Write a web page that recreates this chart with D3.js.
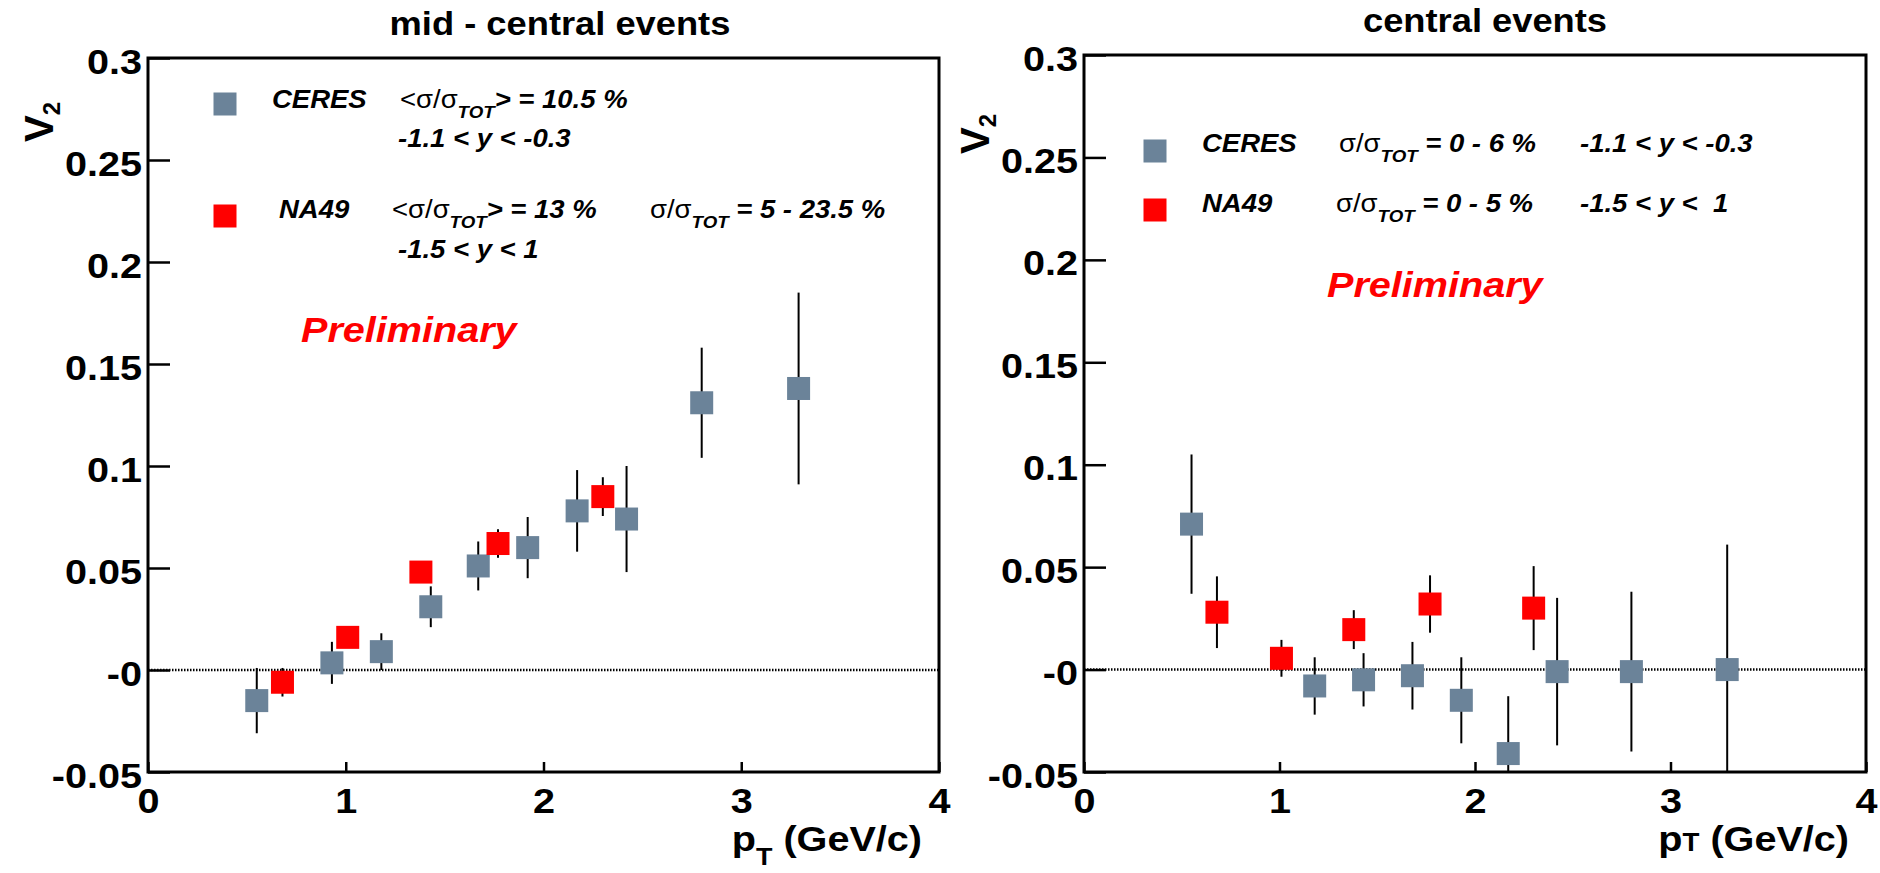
<!DOCTYPE html>
<html>
<head>
<meta charset="utf-8">
<script src="https://cdn.jsdelivr.net/npm/d3@7"></script>
<style>
    body { margin: 0; background: #fff; }
    svg { display: block; font-family: "Liberation Sans", Arial, Helvetica, sans-serif; }
    text { white-space: pre; }
</style>
</head>
<body>
<div id="chart"></div>
<script>
// ---- data ----
const xTicks = [0, 1, 2, 3, 4];
const yTicks = [-0.05, 0, 0.05, 0.1, 0.15, 0.2, 0.25, 0.3];
const yTickLabels = ["-0.05", "-0", "0.05", "0.1", "0.15", "0.2", "0.25", "0.3"];

// mid-central events
const ptMidCeres = [0.55, 0.93, 1.18, 1.43, 1.67, 1.92, 2.17, 2.42, 2.80, 3.29];
const v2MidCeres = [-0.015, 0.0035, 0.009, 0.031, 0.051, 0.060, 0.078, 0.074, 0.131, 0.138];
const errMidCeres = [0.016, 0.0103, 0.009, 0.010, 0.012, 0.015, 0.020, 0.026, 0.027, 0.047];
const ptMidNa49 = [0.68, 1.01, 1.38, 1.77, 2.30];
const v2MidNa49 = [-0.006, 0.016, 0.048, 0.062, 0.085];
const errMidNa49 = [0.007, 0.004, 0.004, 0.007, 0.0095];

// central events
const ptCenCeres = [0.55, 1.18, 1.43, 1.68, 1.93, 2.17, 2.42, 2.80, 3.29];
const v2CenCeres = [0.071, -0.008, -0.005, -0.003, -0.015, -0.041, -0.001, -0.001, 0.000];
const errCenCeres = [0.034, 0.014, 0.013, 0.0165, 0.021, 0.028, 0.036, 0.039, 0.061];
const ptCenNa49 = [0.68, 1.01, 1.38, 1.77, 2.30];
const v2CenNa49 = [0.028, 0.0055, 0.0195, 0.032, 0.030];
const errCenNa49 = [0.0175, 0.009, 0.0095, 0.014, 0.0205];

const ceresColor = "#6b8399";
const na49Color = "#ff0000";

const W = 1880, H = 873;
const SX = 1.1; // the original glyphs are a little wider than Arial's

const svg = d3.select("#chart").append("svg")
    .attr("width", W)
    .attr("height", H);

// Text made of pieces:
// "b" bold italic, "n" plain, "u" bold upright, "s" bold italic subscript,
// "su" bold upright subscript, "k" small upright capital on the baseline
function richText(parent, x, y, segs, size, color, anchor) {
    const t = parent.append("text")
        .attr("transform", `translate(${x},${y}) scale(${SX},1)`)
        .attr("font-size", size)
        .attr("fill", color || "#000")
        .attr("text-anchor", anchor || "start");
    let shift = 0;
    segs.forEach(([str, kind]) => {
        const ts = t.append("tspan").text(str);
        const isSub = kind === "s" || kind === "su";
        const target = isSub ? size * 0.38 : 0;
        if (target !== shift) ts.attr("dy", target - shift);
        shift = target;
        if (isSub) ts.attr("font-size", size * 0.68);
        if (kind === "k") ts.attr("font-size", size * 0.7);
        ts.attr("font-weight", kind === "n" ? "normal" : "bold")
          .attr("font-style", kind === "b" || kind === "s" ? "italic" : "normal");
    });
    return t;
}

const panels = [
    {
        left: 148, right: 939, top: 58, bottom: 772,
        title: "mid - central events", titleX: 560, titleY: 35,
        ceres: { pt: ptMidCeres, v2: v2MidCeres, err: errMidCeres },
        na49: { pt: ptMidNa49, v2: v2MidNa49, err: errMidNa49 },
        vLabel: { x: 53, y: 102 },
        xLabel: [["p", "u"], ["T", "su"], [" (GeV/c)", "u"]],
        markers: [{ x: 225, y: 104, color: ceresColor }, { x: 225, y: 216, color: na49Color }],
        legend: [
            { x: 272, y: 108, segs: [["CERES", "b"]] },
            { x: 400, y: 108, segs: [["<σ/σ", "n"], ["TOT", "s"], ["> = 10.5 %", "b"]] },
            { x: 398, y: 147, segs: [["-1.1 < y < -0.3", "b"]] },
            { x: 279, y: 218, segs: [["NA49", "b"]] },
            { x: 392, y: 218, segs: [["<σ/σ", "n"], ["TOT", "s"], ["> = 13 %", "b"]] },
            { x: 650, y: 218, segs: [["σ/σ", "n"], ["TOT", "s"], [" = 5 - 23.5 %", "b"]] },
            { x: 398, y: 258, segs: [["-1.5 < y < 1", "b"]] }
        ],
        prelim: { x: 301, y: 342 }
    },
    {
        left: 1084, right: 1866, top: 55, bottom: 772,
        title: "central events", titleX: 1485, titleY: 32,
        ceres: { pt: ptCenCeres, v2: v2CenCeres, err: errCenCeres },
        na49: { pt: ptCenNa49, v2: v2CenNa49, err: errCenNa49 },
        vLabel: { x: 989, y: 114 },
        xLabel: [["p", "u"], ["T", "k"], [" (GeV/c)", "u"]],
        markers: [{ x: 1155, y: 151, color: ceresColor }, { x: 1155, y: 210, color: na49Color }],
        legend: [
            { x: 1202, y: 152, segs: [["CERES", "b"]] },
            { x: 1339, y: 152, segs: [["σ/σ", "n"], ["TOT", "s"], [" = 0 - 6 %", "b"]] },
            { x: 1580, y: 152, segs: [["-1.1 < y < -0.3", "b"]] },
            { x: 1202, y: 212, segs: [["NA49", "b"]] },
            { x: 1336, y: 212, segs: [["σ/σ", "n"], ["TOT", "s"], [" = 0 - 5 %", "b"]] },
            { x: 1580, y: 212, segs: [["-1.5 < y <  1", "b"]] }
        ],
        prelim: { x: 1327, y: 297 }
    }
];

const MS = 23; // marker size

panels.forEach((p, pi) => {
    const x = d3.scaleLinear().domain([0, 4]).range([p.left, p.right]);
    const y = d3.scaleLinear().domain([-0.05, 0.3]).range([p.bottom, p.top]);
    const g = svg.append("g");

    // Clip for error bars and markers
    const clipId = "clip" + pi;
    g.append("clipPath").attr("id", clipId)
        .append("rect")
        .attr("x", p.left).attr("y", p.top)
        .attr("width", p.right - p.left).attr("height", p.bottom - p.top);

    // Title
    g.append("text")
        .attr("transform", `translate(${p.titleX},${p.titleY}) scale(${SX},1)`)
        .attr("text-anchor", "middle")
        .attr("font-size", 33)
        .attr("font-weight", "bold")
        .text(p.title);

    // Y axis
    const yAxis = g.append("g")
        .attr("transform", `translate(${p.left},0)`)
        .call(d3.axisLeft(y)
            .tickValues(yTicks)
            .tickFormat(d => yTickLabels[yTicks.indexOf(d)])
            .tickSize(-22)
            .tickPadding(6));
    yAxis.select(".domain").remove();
    yAxis.selectAll(".tick line").attr("stroke", "#000").attr("stroke-width", 2.5);
    yAxis.selectAll(".tick text")
        .attr("x", 0)
        .attr("dy", "0.42em")
        .attr("transform", `translate(-6,0) scale(${SX},1)`)
        .attr("font-size", 36)
        .attr("font-weight", "bold")
        .attr("font-family", null)
        .attr("fill", "#000");

    // X axis
    const xAxis = g.append("g")
        .attr("transform", `translate(0,${p.bottom})`)
        .call(d3.axisBottom(x)
            .tickValues(xTicks)
            .tickFormat(d3.format("d"))
            .tickSize(-10)
            .tickPadding(15));
    xAxis.select(".domain").remove();
    xAxis.selectAll(".tick line").attr("stroke", "#000").attr("stroke-width", 2.5);
    xAxis.selectAll(".tick text")
        .attr("y", 0)
        .attr("transform", `translate(0,15) scale(${SX},1)`)
        .attr("font-size", 36)
        .attr("font-weight", "bold")
        .attr("font-family", null)
        .attr("fill", "#000");

    // Dotted zero line
    g.append("line")
        .attr("x1", x(0)).attr("x2", x(4))
        .attr("y1", y(0)).attr("y2", y(0))
        .attr("stroke", "#000")
        .attr("stroke-width", 2.5)
        .attr("stroke-dasharray", "1.5,1.5");

    // Points: error bars then squares
    const series = [
        { d: p.ceres, color: ceresColor },
        { d: p.na49, color: na49Color }
    ];
    const plot = g.append("g").attr("clip-path", `url(#${clipId})`);
    series.forEach(s => {
        const pts = s.d.pt.map((pt, i) => ({ pt, v: s.d.v2[i], e: s.d.err[i] }));
        plot.append("g").selectAll("line")
            .data(pts)
            .join("line")
            .attr("x1", d => x(d.pt)).attr("x2", d => x(d.pt))
            .attr("y1", d => y(d.v - d.e)).attr("y2", d => y(d.v + d.e))
            .attr("stroke", "#000")
            .attr("stroke-width", 2);
        plot.append("g").selectAll("rect")
            .data(pts)
            .join("rect")
            .attr("x", d => x(d.pt) - MS / 2)
            .attr("y", d => y(d.v) - MS / 2)
            .attr("width", MS).attr("height", MS)
            .attr("fill", s.color);
    });

    // Frame
    g.append("rect")
        .attr("x", p.left).attr("y", p.top)
        .attr("width", p.right - p.left).attr("height", p.bottom - p.top)
        .attr("fill", "none")
        .attr("stroke", "#000")
        .attr("stroke-width", 3);

    // Legend
    p.markers.forEach(m => {
        g.append("rect")
            .attr("x", m.x - MS / 2).attr("y", m.y - MS / 2)
            .attr("width", MS).attr("height", MS)
            .attr("fill", m.color);
    });
    p.legend.forEach(l => richText(g, l.x, l.y, l.segs, 25, "#000"));

    // Preliminary
    richText(g, p.prelim.x, p.prelim.y, [["Preliminary", "b"]], 36, "#ff0000");

    // Axis titles
    richText(g, p.right - 17, 851, p.xLabel, 36, "#000", "end");

    const vt = g.append("text")
        .attr("transform", `translate(${p.vLabel.x},${p.vLabel.y}) rotate(-90)`)
        .attr("text-anchor", "end")
        .attr("font-weight", "bold");
    vt.append("tspan").attr("font-size", 40).text("V");
    vt.append("tspan").attr("font-size", 24).attr("dy", 7).text("2");
});
</script>
</body>
</html>
